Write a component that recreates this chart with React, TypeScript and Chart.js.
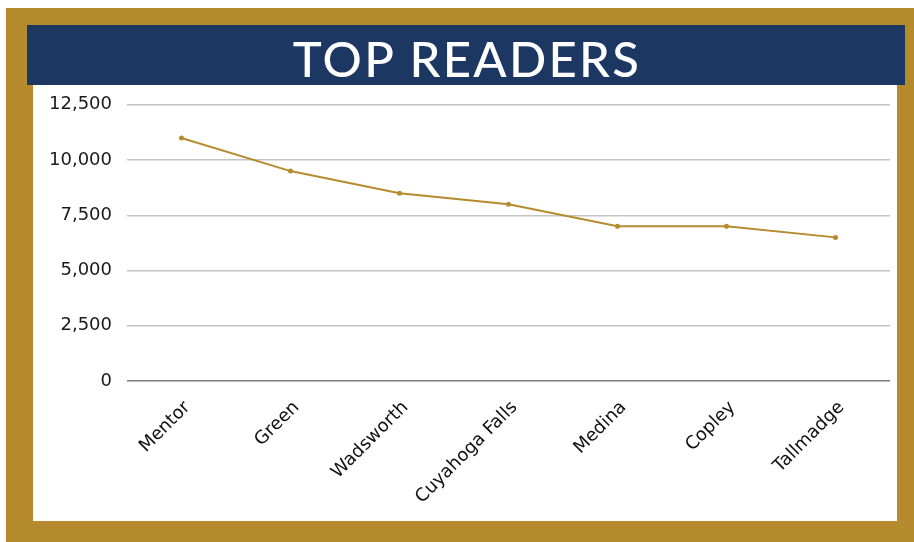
import React, { useEffect, useRef } from "react";
import { Chart, registerables } from "chart.js";

Chart.register(...registerables);

const categories = ["Mentor", "Green", "Wadsworth", "Cuyahoga Falls", "Medina", "Copley", "Tallmadge"];
const readers = [11000, 9500, 8500, 8000, 7000, 7000, 6500];
const yTicks = [0, 2500, 5000, 7500, 10000, 12500];
const title = "TOP READERS";

const GOLD = "#b68b2e";
const NAVY = "#1d3763";

export default function App() {
  const canvasRef = useRef<HTMLCanvasElement | null>(null);

  useEffect(() => {
    const canvas = canvasRef.current;
    if (!canvas) return;
    const chart = new Chart(canvas, {
      type: "line",
      data: {
        labels: categories,
        datasets: [
          {
            data: readers,
            borderColor: GOLD,
            backgroundColor: GOLD,
            borderWidth: 2,
            pointRadius: 2.5,
            pointBackgroundColor: GOLD,
            pointBorderWidth: 0,
            tension: 0,
          },
        ],
      },
      options: {
        animation: false,
        responsive: false,
        maintainAspectRatio: false,
        layout: { padding: { top: 13, right: 7, bottom: 0, left: 0 } },
        plugins: { legend: { display: false }, tooltip: { enabled: false } },
        scales: {
          x: {
            offset: true,
            grid: { display: false, drawTicks: false },
            border: { display: false },
            ticks: {
              maxRotation: 45,
              minRotation: 45,
              padding: 16,
              labelOffset: 6,
              color: "#111",
              font: { family: "'DejaVu Sans'", size: 18 },
            },
            afterFit: (scale: any) => {
              scale.height = 140;
            },
          },
          y: {
            min: 0,
            max: 12500,
            afterBuildTicks: (scale: any) => {
              scale.ticks = yTicks.map((v) => ({ value: v }));
            },
            grid: {
              drawTicks: false,
              color: (ctx: any) => (ctx.tick && ctx.tick.value === 0 ? "#7a7a7a" : "#c4c4c4"),
              lineWidth: 1.5,
            },
            border: { display: false },
            ticks: {
              padding: 15,
              color: "#1a1a1a",
              font: { family: "'DejaVu Sans'", size: 18 },
              callback: (v: any) => Number(v).toLocaleString("en-US"),
            },
            afterFit: (scale: any) => {
              scale.width = 94;
            },
          },
        },
      },
    });
    return () => chart.destroy();
  }, []);

  return (
    <div style={{ position: "absolute", left: 0, top: 0, width: 914, height: 542, background: "#fff", overflow: "hidden" }}>
      <div style={{ position: "absolute", left: 6, top: 8, width: 908, height: 534, background: GOLD }} />
      <div style={{ position: "absolute", left: 33, top: 85, width: 864, height: 436, background: "#fff" }} />
      <div style={{ position: "absolute", left: 33, top: 79, width: 864, height: 442 }}>
        <canvas ref={canvasRef} width={864} height={442} style={{ display: "block", width: 864, height: 442 }} />
      </div>
      <div
        style={{
          position: "absolute",
          left: 27,
          top: 25,
          width: 878,
          height: 60,
          background: NAVY,
          color: "#fff",
          display: "flex",
          alignItems: "center",
          justifyContent: "center",
          fontFamily: "Lato, sans-serif",
          fontSize: 49,
          fontWeight: 500,
          letterSpacing: 2.3,
          lineHeight: 1,
          paddingTop: 7,
          paddingLeft: 2,
          boxSizing: "border-box",
        }}
      >
        {title}
      </div>
    </div>
  );
}
